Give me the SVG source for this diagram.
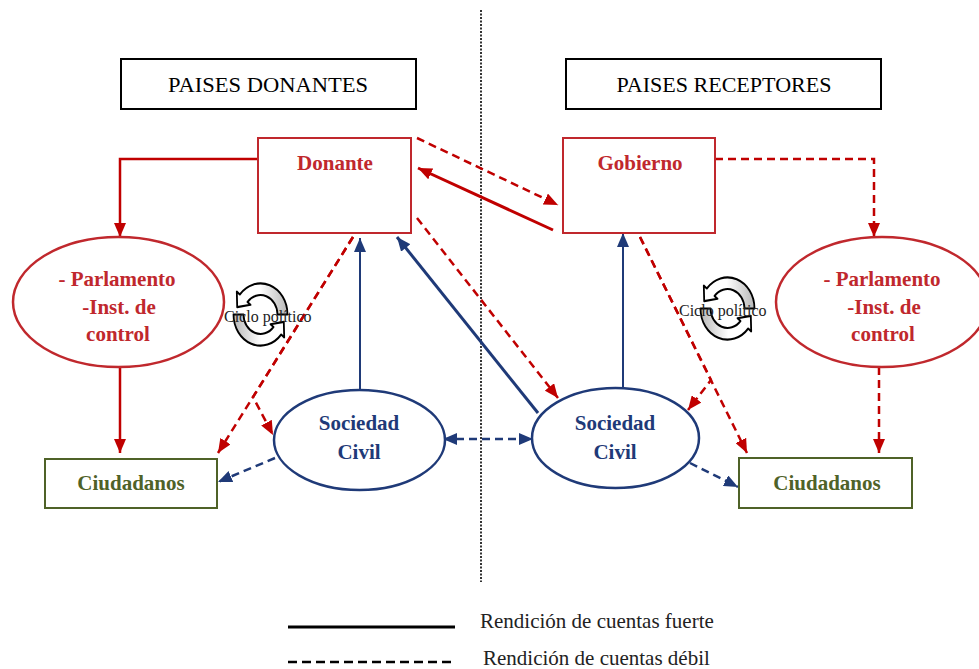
<svg xmlns="http://www.w3.org/2000/svg" width="979" height="669" viewBox="0 0 979 669">
<style>
.bg{fill:#ffffff}
.hdr{fill:#fff;stroke:#000;stroke-width:2}
.hdrt{font-family:"Liberation Serif",serif;font-size:21px;fill:#000;text-anchor:middle}
.rbox{fill:#fff;stroke:#C0282D;stroke-width:2}
.rell{fill:#fff;stroke:#C0282D;stroke-width:2.5}
.bell{fill:#fff;stroke:#1F3A78;stroke-width:2.5}
.gbox{fill:#fff;stroke:#4F6228;stroke-width:2}
.lbl{font-family:"Liberation Serif",serif;font-size:21px;font-weight:bold;text-anchor:middle}
.red{fill:#C0282D}
.blue{fill:#1F3A78}
.green{fill:#4F6228}
.rs{fill:none;stroke:#C00000;stroke-width:2.5}
.rd{fill:none;stroke:#C00000;stroke-width:2.5;stroke-dasharray:8 5}
.bs{fill:none;stroke:#1F3A78;stroke-width:2}
.bt{fill:none;stroke:#1F3A78;stroke-width:3}
.bd{fill:none;stroke:#1F3A78;stroke-width:2.5;stroke-dasharray:8 5}
.cyc{font-family:"Liberation Serif",serif;font-size:16px;fill:#222}
.leg{font-family:"Liberation Serif",serif;font-size:21px;fill:#222}
.icon{stroke:#000;stroke-width:1.8;stroke-linejoin:round}
</style>
<defs>
<marker id="ar" viewBox="0 0 14 12" refX="14" refY="6" markerWidth="14" markerHeight="12" markerUnits="userSpaceOnUse" orient="auto">
<path d="M0,0 L14,6 L0,12 Z" fill="#C00000"/>
</marker>
<marker id="ab" viewBox="0 0 14 12" refX="14" refY="6" markerWidth="14" markerHeight="12" markerUnits="userSpaceOnUse" orient="auto-start-reverse">
<path d="M0,0 L14,6 L0,12 Z" fill="#1F3A78"/>
</marker>
<linearGradient id="gg" x1="0" y1="0" x2="1" y2="0">
<stop offset="0" stop-color="#ffffff"/>
<stop offset="0.45" stop-color="#ffffff"/>
<stop offset="1" stop-color="#b8b8b8"/>
</linearGradient>
<g id="cycle">
<path class="icon" fill="url(#gg)" d="M27,0 A27,27 0 0 0 -20.7,-17.4 L-23.7,-19.9 L-23.3,-6.4 L-10,-8.4 L-13,-10.9 A17,17 0 0 1 17,0 Z"/>
<path class="icon" fill="url(#gg)" transform="rotate(180)" d="M27,0 A27,27 0 0 0 -20.7,-17.4 L-23.7,-19.9 L-23.3,-6.4 L-10,-8.4 L-13,-10.9 A17,17 0 0 1 17,0 Z"/>
</g>
</defs>
<rect class="bg" x="0" y="0" width="979" height="669"/>

<line x1="481" y1="10" x2="481" y2="582" stroke="#333" stroke-width="2" stroke-dasharray="2 1.5"/>

<g id="hdr-donantes">
<rect class="hdr" x="121" y="59" width="295" height="50"/>
<text class="hdrt" x="268" y="92" textLength="200" lengthAdjust="spacingAndGlyphs">PAISES DONANTES</text>
</g>
<g id="hdr-receptores">
<rect class="hdr" x="566" y="59" width="315" height="50"/>
<text class="hdrt" x="724" y="92" textLength="215" lengthAdjust="spacingAndGlyphs">PAISES RECEPTORES</text>
</g>

<g id="connectors">
<polyline class="rs" points="258,159 120,159 120,237" marker-end="url(#ar)"/>
<line class="rs" x1="120" y1="367" x2="120" y2="453" marker-end="url(#ar)"/>
<line class="rd" x1="353" y1="237" x2="218" y2="453" marker-end="url(#ar)"/>
<polyline class="rd" points="353,237 253,397 273,435" marker-end="url(#ar)"/>
<line class="bs" x1="360" y1="390" x2="360" y2="238" marker-end="url(#ab)"/>
<line class="bt" x1="538" y1="413" x2="397" y2="237" marker-end="url(#ab)"/>
<line class="rd" x1="417" y1="138" x2="558" y2="205" marker-end="url(#ar)"/>
<line class="rs" style="stroke-width:3" x1="553" y1="230" x2="418" y2="168" marker-end="url(#ar)"/>
<line class="rd" x1="417" y1="218" x2="558" y2="398" marker-end="url(#ar)"/>
<line class="bd" x1="443" y1="439" x2="533" y2="439" marker-start="url(#ab)" marker-end="url(#ab)"/>
<line class="bd" x1="275" y1="458" x2="218" y2="482" marker-end="url(#ab)"/>
<line class="bd" x1="690" y1="463" x2="738" y2="487" marker-end="url(#ab)"/>
<line class="bs" x1="623" y1="388" x2="623" y2="233" marker-end="url(#ab)"/>
<line class="rd" x1="640" y1="237" x2="747" y2="453" marker-end="url(#ar)"/>
<polyline class="rd" points="640,237 711,380 688,410" marker-end="url(#ar)"/>
<polyline class="rd" points="715,159 874,159 874,237" marker-end="url(#ar)"/>
<line class="rd" x1="879" y1="367" x2="879" y2="453" marker-end="url(#ar)"/>
</g>

<g id="donante">
<rect class="rbox" x="258" y="138" width="153" height="95"/>
<text class="lbl red" x="335" y="170">Donante</text>
</g>
<g id="gobierno">
<rect class="rbox" x="563" y="138" width="152" height="95"/>
<text class="lbl red" x="640" y="170">Gobierno</text>
</g>
<g id="parlamento-izq">
<ellipse class="rell" cx="118.5" cy="302" rx="105.5" ry="65"/>
<text class="lbl red" x="117" y="286">- Parlamento</text>
<text class="lbl red" x="119" y="314">-Inst. de</text>
<text class="lbl red" x="118" y="341">control</text>
</g>
<g id="parlamento-der">
<ellipse class="rell" cx="882" cy="302" rx="106" ry="65"/>
<text class="lbl red" x="882" y="286">- Parlamento</text>
<text class="lbl red" x="884" y="314">-Inst. de</text>
<text class="lbl red" x="883" y="341">control</text>
</g>
<g id="sociedad-izq">
<ellipse class="bell" cx="359.5" cy="440" rx="85.5" ry="50"/>
<text class="lbl blue" x="359" y="430">Sociedad</text>
<text class="lbl blue" x="359" y="459">Civil</text>
</g>
<g id="sociedad-der">
<ellipse class="bell" cx="615.5" cy="438" rx="83.5" ry="50"/>
<text class="lbl blue" x="615" y="430">Sociedad</text>
<text class="lbl blue" x="615" y="459">Civil</text>
</g>
<g id="ciudadanos-izq">
<rect class="gbox" x="45" y="459" width="172" height="49"/>
<text class="lbl green" x="131" y="490">Ciudadanos</text>
</g>
<g id="ciudadanos-der">
<rect class="gbox" x="739" y="458" width="173" height="50"/>
<text class="lbl green" x="827" y="490">Ciudadanos</text>
</g>

<g id="ciclo-izq">
<use href="#cycle" transform="translate(260.5,314.5) scale(1,1.15)"/>
<text class="cyc" x="224" y="322">Ciclo político</text>
</g>
<g id="ciclo-der">
<use href="#cycle" transform="translate(727.5,308.5) scale(1,1.15)"/>
<text class="cyc" x="679" y="316">Ciclo político</text>
</g>

<g id="leyenda">
<line x1="288" y1="627" x2="455" y2="627" stroke="#000" stroke-width="3"/>
<line x1="288" y1="662" x2="455" y2="662" stroke="#000" stroke-width="2.5" stroke-dasharray="9 5"/>
<text class="leg" x="480" y="628">Rendición de cuentas fuerte</text>
<text class="leg" x="483" y="665">Rendición de cuentas débil</text>
</g>
</svg>
